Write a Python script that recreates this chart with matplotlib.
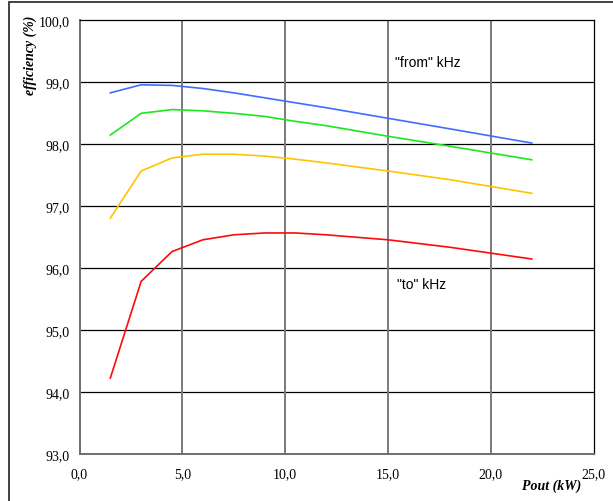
import matplotlib
matplotlib.use("Agg")
import matplotlib.pyplot as plt
from matplotlib.patches import Rectangle

# Output power (kW) and efficiency (%) for each switching frequency
pout_kw = [1.5, 3, 4.5, 6, 7.5, 9, 10.5, 12, 15, 18, 22]
eff_from = [98.83, 98.96, 98.95, 98.90, 98.83, 98.75, 98.67, 98.59, 98.42, 98.25, 98.02]
eff_mid1 = [98.15, 98.50, 98.56, 98.54, 98.50, 98.45, 98.37, 98.30, 98.13, 97.97, 97.75]
eff_mid2 = [96.81, 97.57, 97.78, 97.84, 97.84, 97.81, 97.76, 97.70, 97.57, 97.43, 97.21]
eff_to = [94.23, 95.79, 96.27, 96.46, 96.54, 96.57, 96.57, 96.54, 96.46, 96.34, 96.15]

series = [eff_from, eff_mid1, eff_mid2, eff_to]
colors = ["#3f6dff", "#1ee61e", "#ffc400", "#ff0a0a"]

x_ticks = [0, 5, 10, 15, 20, 25]
x_labels = ["0,0", "5,0", "10,0", "15,0", "20,0", "25,0"]
y_ticks = [93, 94, 95, 96, 97, 98, 99, 100]
y_labels = ["93,0", "94,0", "95,0", "96,0", "97,0", "98,0", "99,0", "100,0"]

fig = plt.figure(figsize=(6.13, 5.02), dpi=100)
ax = fig.add_axes([79.5 / 613, 46.7 / 502, 514 / 613, 434 / 502])

for ys, c in zip(series, colors):
    ax.plot(pout_kw, ys, color=c, lw=1.2, zorder=3)

ax.set_xlim(0, 25)
ax.set_ylim(93, 100)
ax.set_xticks(x_ticks)
ax.set_xticklabels(x_labels)
ax.set_yticks(y_ticks)
ax.set_yticklabels(y_labels)
ax.tick_params(axis="x", length=0, labelsize=10, pad=9)
ax.tick_params(axis="y", length=0, labelsize=10, pad=7)
for lab in ax.get_xticklabels() + ax.get_yticklabels():
    lab.set_fontfamily("Liberation Serif")

# grid: black horizontal, grey vertical
for y in y_ticks[1:-1]:
    ax.axhline(y, color="black", lw=0.9, zorder=1)
for x in x_ticks[1:-1]:
    ax.axvline(x, color="#7a7a7a", lw=1.4, zorder=1)

ax.spines["left"].set_color("#6e6e6e")
ax.spines["bottom"].set_color("#6e6e6e")
ax.spines["left"].set_linewidth(1.4)
ax.spines["bottom"].set_linewidth(1.4)
ax.spines["top"].set_color("black")
ax.spines["right"].set_color("black")
ax.spines["top"].set_linewidth(0.9)
ax.spines["right"].set_linewidth(0.9)

ax.text(15.35, 99.33, '"from" kHz', fontsize=10, family="Liberation Sans",
        ha="left", va="center")
ax.text(15.45, 95.75, '"to" kHz', fontsize=10, family="Liberation Sans",
        ha="left", va="center")

fig.text(30 / 613, 1 - 55 / 502, "efficiency (%)", rotation=90, fontsize=10,
         family="Liberation Serif", weight="bold", style="italic",
         ha="center", va="center")
fig.text(552 / 613, 1 - 486 / 502, "Pout (kW)", fontsize=10,
         family="Liberation Serif", weight="bold", style="italic",
         ha="center", va="center")

# frame around the chart area
fig.patches.append(Rectangle((8.5 / 613, -0.05), 1.0, 1.05 - 2.5 / 502,
                             transform=fig.transFigure, fill=False,
                             edgecolor="#333333", lw=1.3))

fig.savefig("out.png", dpi=100)
